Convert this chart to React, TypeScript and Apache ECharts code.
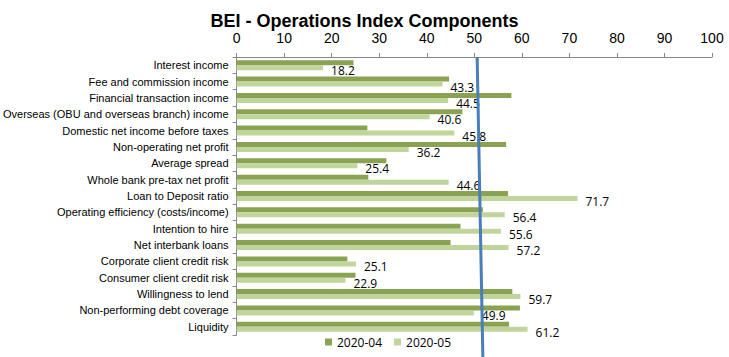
import React, { useEffect, useRef } from "react";
import * as echarts from "echarts";

const categories = [
  "Interest income",
  "Fee and commission income",
  "Financial transaction income",
  "Overseas (OBU and overseas branch) income",
  "Domestic net income before taxes",
  "Non-operating net profit",
  "Average spread",
  "Whole bank pre-tax net profit",
  "Loan to Deposit ratio",
  "Operating efficiency (costs/income)",
  "Intention to hire",
  "Net interbank loans",
  "Corporate client credit risk",
  "Consumer client credit risk",
  "Willingness to lend",
  "Non-performing debt coverage",
  "Liquidity",
];

const apr2020 = [24.6, 44.7, 57.8, 47.5, 27.5, 56.7, 31.5, 27.7, 57.1, 51.8, 47.1, 45.0, 23.3, 25.0, 58.0, 59.6, 57.3];
const may2020 = [18.2, 43.3, 44.5, 40.6, 45.8, 36.2, 25.4, 44.6, 71.7, 56.4, 55.6, 57.2, 25.1, 22.9, 59.7, 49.9, 61.2];

const seriesNames = ["2020-04", "2020-05"];
// index reference line (drawn slightly slanted in the original)
const indexLineTop = 50.6;
const indexLineBottom = 51.8;

export default function App() {
  const ref = useRef<HTMLDivElement>(null);
  useEffect(() => {
    if (!ref.current) return;
    const chart = echarts.init(ref.current, null, { renderer: "svg" });
    const sans = "'Liberation Sans', Arial, sans-serif";
    chart.setOption({
      animation: false,
      backgroundColor: "#ffffff",
      title: {
        text: "BEI - Operations Index Components",
        left: "center",
        top: 7,
        textStyle: { fontFamily: sans, fontWeight: "bold", fontSize: 18, color: "#000" },
      },
      legend: {
        bottom: 4,
        left: 320,
        itemWidth: 7,
        itemHeight: 7,
        itemGap: 12,
        icon: "rect",
        textStyle: { fontFamily: "'Open Sans', sans-serif", fontSize: 12, color: "#000" },
        data: seriesNames,
      },
      grid: { left: 236, right: 17, top: 57, bottom: 22, containLabel: false },
      xAxis: {
        type: "value",
        position: "top",
        min: 0,
        max: 100,
        interval: 10,
        axisLine: { show: true, lineStyle: { color: "#888" } },
        axisTick: { show: true, length: 4, lineStyle: { color: "#888" } },
        splitLine: { show: false },
        axisLabel: { fontFamily: sans, fontSize: 14, color: "#000", margin: 12 },
      },
      yAxis: {
        type: "category",
        inverse: true,
        data: categories,
        axisLine: { show: true, lineStyle: { color: "#888" } },
        axisTick: { show: true, length: 4, lineStyle: { color: "#888" } },
        axisLabel: { fontFamily: sans, fontSize: 11, color: "#000", margin: 8 },
      },
      series: [
        {
          name: seriesNames[0],
          type: "bar",
          data: apr2020,
          barWidth: 5,
          barGap: "0%",
          itemStyle: { color: "#8aa352" },
        },
        {
          name: seriesNames[1],
          type: "bar",
          data: may2020,
          barWidth: 5,
          barGap: "0%",
          itemStyle: { color: "#c0d59b" },
          label: {
            show: true,
            position: "right",
            distance: 8,
            offset: [0, 3],
            fontFamily: "'Open Sans', sans-serif",
            fontSize: 12,
            color: "#000",
            formatter: (p: any) => p.value.toFixed(1),
          },
        },
      ],
    });
    const xTop = chart.convertToPixel({ xAxisIndex: 0 }, indexLineTop) as number;
    const xBot = chart.convertToPixel({ xAxisIndex: 0 }, indexLineBottom) as number;
    chart.setOption({
      graphic: [
        {
          type: "line",
          shape: { x1: xTop, y1: 57, x2: xBot, y2: 357 },
          style: { stroke: "#4a7ebb", lineWidth: 3 },
          z: 100,
        },
      ],
    });
    return () => chart.dispose();
  }, []);
  return <div ref={ref} style={{ width: 729, height: 357, position: "absolute", left: 0, top: 0 }} />;
}
